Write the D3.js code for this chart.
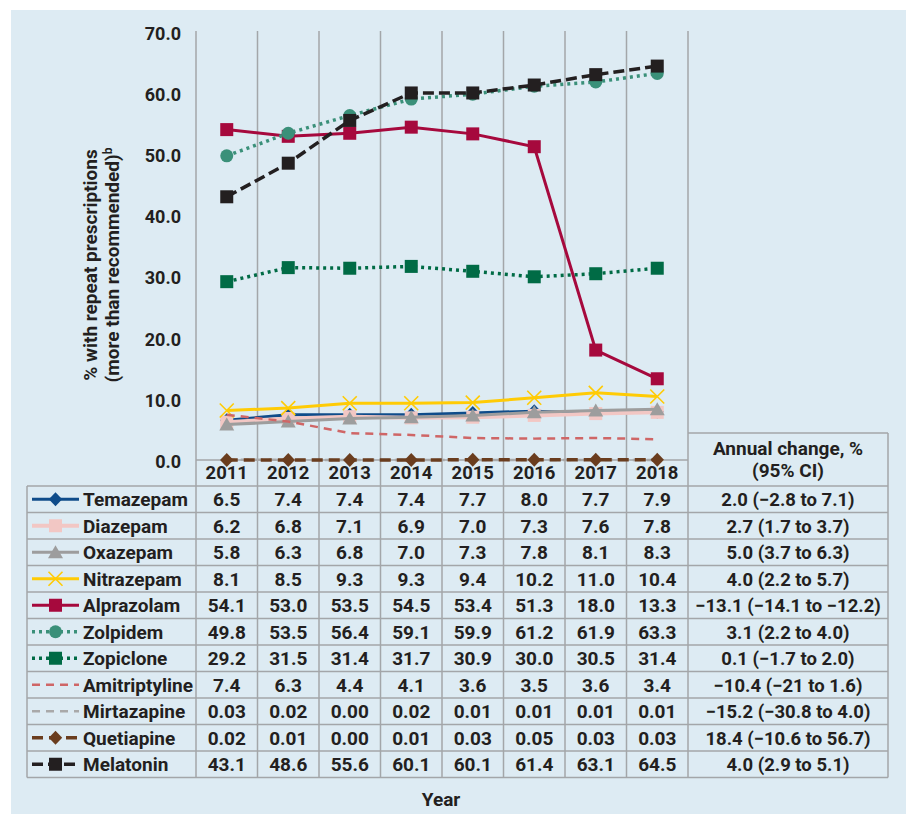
<!DOCTYPE html>
<html><head><meta charset="utf-8">
<script src="https://cdn.jsdelivr.net/npm/d3@7"></script>
<style>
body{margin:0;background:#fff}
svg{display:block}
text{font-family:Roboto,"DejaVu Sans",sans-serif;font-weight:700;fill:#231f20}
</style>
</head><body>
<svg id="c" width="906" height="814"></svg>
<script>
const years=[2011,2012,2013,2014,2015,2016,2017,2018];
const seriesNames=["Temazepam","Diazepam","Oxazepam","Nitrazepam","Alprazolam","Zolpidem","Zopiclone","Amitriptyline","Mirtazapine","Quetiapine","Melatonin"];
const temazepam=[6.5,7.4,7.4,7.4,7.7,8.0,7.7,7.9];
const diazepam=[6.2,6.8,7.1,6.9,7.0,7.3,7.6,7.8];
const oxazepam=[5.8,6.3,6.8,7.0,7.3,7.8,8.1,8.3];
const nitrazepam=[8.1,8.5,9.3,9.3,9.4,10.2,11.0,10.4];
const alprazolam=[54.1,53.0,53.5,54.5,53.4,51.3,18.0,13.3];
const zolpidem=[49.8,53.5,56.4,59.1,59.9,61.2,61.9,63.3];
const zopiclone=[29.2,31.5,31.4,31.7,30.9,30.0,30.5,31.4];
const amitriptyline=[7.4,6.3,4.4,4.1,3.6,3.5,3.6,3.4];
const mirtazapine=[0.03,0.02,0.00,0.02,0.01,0.01,0.01,0.01];
const quetiapine=[0.02,0.01,0.00,0.01,0.03,0.05,0.03,0.03];
const melatonin=[43.1,48.6,55.6,60.1,60.1,61.4,63.1,64.5];
const decimals=[1,1,1,1,1,1,1,1,2,2,1];
const annualChange=["2.0 (\u22122.8 to 7.1)","2.7 (1.7 to 3.7)","5.0 (3.7 to 6.3)","4.0 (2.2 to 5.7)","\u221213.1 (\u221214.1 to \u221212.2)","3.1 (2.2 to 4.0)","0.1 (\u22121.7 to 2.0)","\u221210.4 (\u221221 to 1.6)","\u221215.2 (\u221230.8 to 4.0)","18.4 (\u221210.6 to 56.7)","4.0 (2.9 to 5.1)"];
const yTicks=[0,10,20,30,40,50,60,70];
const yTitle1="% with repeat prescriptions";
const yTitle2="(more than recommended)";
const xTitle="Year";
const changeHeader1="Annual change, %";
const changeHeader2="(95% CI)";

const values=[temazepam,diazepam,oxazepam,nitrazepam,alprazolam,zolpidem,zopiclone,amitriptyline,mirtazapine,quetiapine,melatonin];

const styles=[
 {color:"#0f4c8a",w:3,dash:null,marker:"diamond"},
 {color:"#f2c7c4",w:4,dash:null,marker:"square"},
 {color:"#9d9d9d",w:3,dash:null,marker:"triangle"},
 {color:"#ffcb05",w:3,dash:null,marker:"x"},
 {color:"#a6093d",w:3,dash:null,marker:"square"},
 {color:"#3a9079",w:3.5,dash:"3,4",marker:"circle"},
 {color:"#006b45",w:3.5,dash:"3,4",marker:"square"},
 {color:"#cf6666",w:2.5,dash:"8,6",marker:null},
 {color:"#a9a9a9",w:2.5,dash:"8,6",marker:null},
 {color:"#6a3d1e",w:3.5,dash:"11,6",marker:"diamond"},
 {color:"#231f20",w:3.5,dash:"11,5",marker:"square"}
];

const svg=d3.select("#c");
const gridC="#a3a6a9";
const FS="19px";
svg.append("rect").attr("x",11).attr("y",10).attr("width",895).attr("height",804).attr("fill","#ddebf3");

const x=d3.scaleBand().domain(years).range([196,688]);
const y=d3.scaleLinear().domain([0,70]).range([460,32.5]);
const rows=d3.scaleBand().domain(seriesNames).range([486,777.5]);
const tableLeft=27,tableRight=888,tableBottom=777.5,gridTop=31;

const edges=years.map(d=>x(d)).concat([x.range()[1]]);
svg.append("g").selectAll("line").data(edges).join("line")
 .attr("x1",d=>d).attr("x2",d=>d).attr("y1",gridTop).attr("y2",tableBottom)
 .attr("stroke",gridC).attr("stroke-width",1.5);
svg.append("line").attr("x1",196).attr("x2",688).attr("y1",y(0)).attr("y2",y(0)).attr("stroke",gridC).attr("stroke-width",1.5);
const rowEdges=seriesNames.map(d=>rows(d)).concat([tableBottom]);
svg.append("g").selectAll("line").data(rowEdges).join("line")
 .attr("x1",tableLeft).attr("x2",tableRight).attr("y1",d=>d).attr("y2",d=>d)
 .attr("stroke",gridC).attr("stroke-width",1.5);
svg.append("line").attr("x1",tableLeft).attr("x2",tableLeft).attr("y1",486).attr("y2",tableBottom).attr("stroke",gridC).attr("stroke-width",1.5);
svg.append("line").attr("x1",tableRight).attr("x2",tableRight).attr("y1",433).attr("y2",tableBottom).attr("stroke",gridC).attr("stroke-width",1.5);
svg.append("line").attr("x1",688).attr("x2",tableRight).attr("y1",433).attr("y2",433).attr("stroke",gridC).attr("stroke-width",1.5);

const yAxis=svg.append("g").attr("transform","translate(196,0)")
 .call(d3.axisLeft(y).tickValues(yTicks).tickFormat(d3.format(".1f")).tickSize(0).tickPadding(15));
yAxis.select(".domain").remove();
yAxis.selectAll("text").style("font-size","18px").attr("dy","0.4em").attr("fill","#231f20");

const xAxis=svg.append("g").attr("transform",`translate(0,${y(0)})`)
 .call(d3.axisBottom(x).tickSize(0).tickPadding(6));
xAxis.select(".domain").remove();
xAxis.selectAll("text").style("font-size","18.5px").attr("fill","#231f20");

svg.append("text").attr("transform","translate(97,265) rotate(-90)").attr("text-anchor","middle").style("font-size",FS).text(yTitle1);
const t2=svg.append("text").attr("transform","translate(118.5,265) rotate(-90)").attr("text-anchor","middle").style("font-size",FS);
t2.append("tspan").text(yTitle2);
t2.append("tspan").attr("dy","-7").style("font-size","12px").text("b");
svg.append("text").attr("x",441).attr("y",806).attr("text-anchor","middle").style("font-size",FS).text(xTitle);
svg.append("text").attr("x",788).attr("y",455).attr("text-anchor","middle").style("font-size",FS).text(changeHeader1);
svg.append("text").attr("x",788).attr("y",477).attr("text-anchor","middle").style("font-size",FS).text(changeHeader2);

function drawMarker(g,type,cx,cy,color){
  if(type==="square"){
    g.append("rect").attr("x",cx-6.5).attr("y",cy-6.5).attr("width",13).attr("height",13).attr("fill",color);
  } else if(type==="diamond"){
    g.append("path").attr("d",`M${cx},${cy-7}L${cx+6.7},${cy}L${cx},${cy+7}L${cx-6.7},${cy}Z`).attr("fill",color);
  } else if(type==="triangle"){
    g.append("path").attr("d",`M${cx},${cy-7}L${cx+7.5},${cy+6}L${cx-7.5},${cy+6}Z`).attr("fill",color);
  } else if(type==="circle"){
    g.append("circle").attr("cx",cx).attr("cy",cy).attr("r",6.5).attr("fill",color);
  } else if(type==="x"){
    g.append("path").attr("d",`M${cx-7},${cy-7}L${cx+7},${cy+7}M${cx+7},${cy-7}L${cx-7},${cy+7}`).attr("stroke",color).attr("stroke-width",1.6).attr("fill","none");
  }
}

const line=d3.line().x((d,i)=>x(years[i])+x.bandwidth()/2).y(d=>y(d));
const plot=svg.append("g");
values.forEach((vals,si)=>{
  const s=styles[si];
  const g=plot.append("g");
  g.append("path").attr("d",line(vals)).attr("fill","none").attr("stroke",s.color).attr("stroke-width",s.w)
   .attr("stroke-dasharray",s.dash);
  if(s.marker) vals.forEach((v,i)=>drawMarker(g,s.marker,x(years[i])+x.bandwidth()/2,y(v),s.color));
});

const tbl=svg.append("g");
seriesNames.forEach((name,si)=>{
  const s=styles[si];
  const cy=rows(name)+rows.bandwidth()/2;
  const g=tbl.append("g");
  g.append("line").attr("x1",32).attr("x2",79).attr("y1",cy).attr("y2",cy).attr("stroke",s.color)
   .attr("stroke-width",s.w).attr("stroke-dasharray",s.dash);
  if(s.marker) drawMarker(g,s.marker,55.5,cy,s.color);
  g.append("text").attr("x",83).attr("y",cy+6.8).style("font-size",FS).text(name);
  values[si].forEach((v,i)=>{
    g.append("text").attr("x",x(years[i])+x.bandwidth()/2).attr("y",cy+6.8).attr("text-anchor","middle")
     .style("font-size",FS).text(v.toFixed(decimals[si]));
  });
  g.append("text").attr("x",788).attr("y",cy+6.8).attr("text-anchor","middle").style("font-size","18.5px").text(annualChange[si]);
});
</script>
</body></html>
